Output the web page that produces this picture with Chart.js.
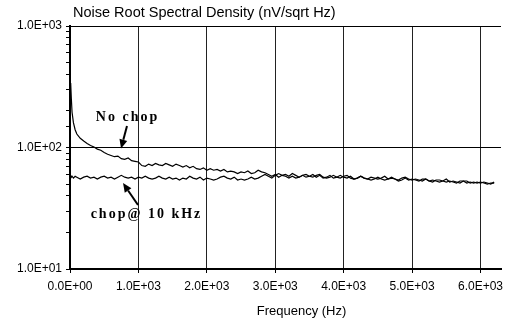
<!DOCTYPE html>
<html><head><meta charset="utf-8">
<script src="https://cdn.jsdelivr.net/npm/chart.js@4"></script>
<style>html,body{margin:0;padding:0;background:#fff}#wrap{width:520px;height:326px}</style>
</head><body><div id="wrap"><canvas id="c" width="520" height="326"></canvas></div>
<script>
const chartTitle = 'Noise Root Spectral Density (nV/sqrt Hz)';
const xTitle = 'Frequency (Hz)';
const xTicks = [0,1000,2000,3000,4000,5000,6000];
const yTicks = [10,100,1000];

const freqHz = [10,20,30,50,75,100,150,200,250,300,350,400,450,500,550,600,650,700,750,800,850,900,950,1000,
1050,1100,1150,1200,1250,1300,1350,1400,1450,1500,
1550,1600,1650,1700,1750,1800,1850,1900,1950,2000,
2050,2100,2150,2200,2250,2300,2350,2400,2450,2500,
2550,2600,2650,2700,2750,2800,2850,2900,2950,3000,
3050,3100,3150,3200,3250,3300,3350,3400,3450,3500,
3550,3600,3650,3700,3750,3800,3850,3900,3950,4000,
4050,4100,4150,4200,4250,4300,4350,4400,4450,4500,
4550,4600,4650,4700,4750,4800,4850,4900,4950,5000,
5050,5100,5150,5200,5250,5300,5350,5400,5450,5500,
5550,5600,5650,5700,5750,5800,5850,5900,5950,6000,
6050,6100,6150,6200];

const noChop = [340,250,195,160,140,129,119,113,108,104,101,97,95,91,88,86,84,85,81,80,82,78,77,76,
71,70,73,71,74,72,71,74,72,70,
73,71,69,71,68,70,67,66,68,65,
67,65,66,64,66,63,64,63,61,63,
62,64,61,62,65,63,62,60,58,60,
57,59,60,58,61,59,57,59,57,58,
60,57,59,56,57,59,56,57,59,57,
56,58,55,56,58,56,55,57,56,55,
56,58,55,56,55,54,56,57,55,54,
55,54,53,55,53,54,53,52,53,55,
52,53,52,51,53,53,51,52,51,52,
51,50,51,51];

const chop = [59,57,58,56,58,57,55,57,58,56,57,55,57,58,56,57,55,57,59,57,56,57,55,57,
56,58,56,55,56,58,56,55,57,55,
56,54,56,55,58,56,55,57,54,56,
55,54,55,57,58,56,55,57,54,55,
54,55,57,55,56,58,60,58,56,59,
61,59,58,56,58,56,57,59,60,58,
57,59,60,57,56,57,59,57,56,58,
59,56,55,56,58,56,55,54,55,57,
55,54,55,57,55,53,54,56,54,55,
54,53,55,55,53,52,54,54,53,52,
53,52,51,53,53,51,52,51,52,51,
52,51,50,52];

// annotation anchors in data units (Hz, nV/sqrt Hz)
const notes = [
  {text:'No chop', at:[841,178], from:[833,150], to:[746,98]},
  {text:'chop@ 10 kHz', at:[1118,28.4], from:[994,33.6], to:[775,51]}
];

function sci(v){
  if (v === 0) return '0.0E+00';
  const e = Math.floor(Math.log10(v) + 1e-9);
  const m = v / Math.pow(10, e);
  return m.toFixed(1) + 'E' + (e < 0 ? '-' : '+') + String(Math.abs(e)).padStart(2, '0');
}
const isDecade = v => yTicks.some(t => Math.abs(t - v) < 1e-6);

const sans = 'Arial, "Liberation Sans", sans-serif';
const tickFont = {family:sans, size:12};

const overlay = {
  id:'overlay',
  afterDraw(chart){
    const {ctx, chartArea, scales} = chart;
    ctx.save();
    ctx.fillStyle = '#000';
    ctx.font = '14.5px ' + sans;
    ctx.textAlign = 'left';
    ctx.textBaseline = 'middle';
    ctx.fillText(chartTitle, chartArea.left + 3, chartArea.top - 13);

    ctx.font = '13px ' + sans;
    ctx.textAlign = 'center';
    ctx.fillText(xTitle, (chartArea.left + chartArea.right) / 2 + 16, chartArea.bottom + 42);

    ctx.font = 'bold 14px "Times New Roman", "Liberation Serif", serif';
    ctx.letterSpacing = '2px';
    ctx.strokeStyle = '#000';
    notes.forEach(n => {
      const tx = scales.x.getPixelForValue(n.at[0]), ty = scales.y.getPixelForValue(n.at[1]);
      ctx.fillText(n.text, tx, ty);
      const x0 = scales.x.getPixelForValue(n.from[0]), y0 = scales.y.getPixelForValue(n.from[1]);
      const x1 = scales.x.getPixelForValue(n.to[0]), y1 = scales.y.getPixelForValue(n.to[1]);
      const ang = Math.atan2(y1 - y0, x1 - x0);
      const hl = 9, hw = 4;
      const bx = x1 - hl * Math.cos(ang), by = y1 - hl * Math.sin(ang);
      ctx.lineWidth = 2;
      ctx.beginPath(); ctx.moveTo(x0, y0); ctx.lineTo(bx, by); ctx.stroke();
      ctx.beginPath();
      ctx.moveTo(x1, y1);
      ctx.lineTo(bx + hw * Math.sin(ang), by - hw * Math.cos(ang));
      ctx.lineTo(bx - hw * Math.sin(ang), by + hw * Math.cos(ang));
      ctx.closePath(); ctx.fill();
    });
    ctx.restore();
  }
};

new Chart(document.getElementById('c'), {
  type:'line',
  data:{
    datasets:[
      {label:'No chop', data:freqHz.map((f,i)=>({x:f, y:noChop[i]})), borderColor:'#000', borderWidth:1.2, pointRadius:0, tension:0, fill:false},
      {label:'chop@ 10 kHz', data:freqHz.map((f,i)=>({x:f, y:chop[i]})), borderColor:'#000', borderWidth:1.2, pointRadius:0, tension:0, fill:false}
    ]
  },
  options:{
    responsive:false, animation:false, devicePixelRatio:1,
    layout:{padding:{left:14, right:19, top:26, bottom:9}},
    plugins:{legend:{display:false}, title:{display:false}, tooltip:{enabled:false}},
    scales:{
      x:{
        type:'linear', min:0, max:6300,
        afterBuildTicks: s => { s.ticks = xTicks.map(v => ({value:v})); },
        ticks:{autoSkip:false, maxRotation:0, includeBounds:false, callback:v=>sci(v), font:tickFont, color:'#000', padding:6},
        grid:{color:'#222', lineWidth:1, tickLength:4, tickColor:'#000'},
        border:{color:'#000', width:2},
        title:{display:false},
        afterFit: s => { s.height = 48; }
      },
      y:{
        type:'logarithmic', min:10, max:1000,
        ticks:{autoSkip:false, callback:v=>isDecade(v) ? sci(v) : '', font:tickFont, color:'#000', padding:4},
        grid:{color: c => isDecade(c.tick.value) ? '#000' : 'rgba(0,0,0,0)', lineWidth:1, tickLength:4, tickColor:'#000'},
        border:{color:'#000', width:2},
        afterFit: s => { s.width = 56; }
      }
    }
  },
  plugins:[overlay]
});
</script></body></html>
